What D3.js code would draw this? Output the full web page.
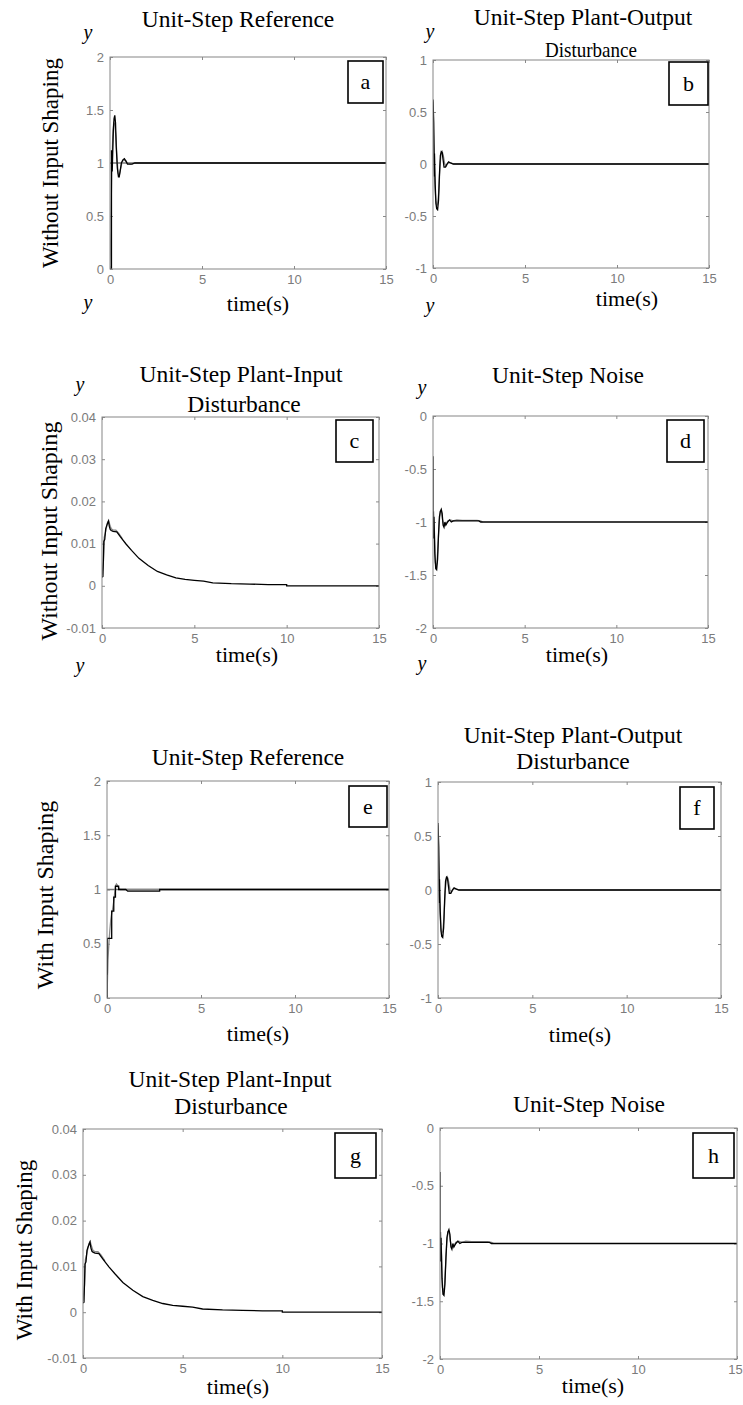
<!DOCTYPE html>
<html>
<head>
<meta charset="utf-8">
<script src="https://d3js.org/d3.v7.min.js"></script>
<style>
  body { margin: 0; background: #fff; }
  svg { display: block; }
  .tick text { font-family: "Liberation Sans", Arial, sans-serif; font-size: 13px; fill: #7b7b7b; }
  .tick line { stroke: #8a8a8a; }
  .serif { font-family: "Liberation Serif", "Times New Roman", serif; fill: #000; }
</style>
</head>
<body>
<svg id="fig" width="743" height="1405"></svg>
<script>
// ---- tick labels ----
var timeTicks = [0, 5, 10, 15];
var refTicks = [0, 0.5, 1, 1.5, 2];
var outDistTicks = [-1, -0.5, 0, 0.5, 1];
var inDistTicks = [-0.01, 0, 0.01, 0.02, 0.03, 0.04];
var noiseTicks = [-2, -1.5, -1, -0.5, 0];

// ---- a: unit-step reference, no shaping ----
var refT1 = [0, 0.08, 0.08, 0.12, 0.18, 0.22, 0.26, 0.3, 0.34, 0.4, 0.46, 0.5, 0.55, 0.62, 0.7, 0.78, 0.86, 0.95, 1.05, 1.2, 1.35, 15];
var refY1 = [0, 0, 1.12, 0.92, 1.3, 1.42, 1.45, 1.38, 1.15, 0.95, 0.87, 0.87, 0.92, 1.0, 1.03, 1.04, 1.02, 0.99, 0.99, 0.99, 1.0, 1.0];
var refT2 = [0, 0.05, 0.05, 0.1, 0.15, 0.2, 0.26, 0.32, 0.38, 0.44, 0.5, 0.58, 0.66, 0.75, 0.85, 0.95, 1.1, 1.3, 15];
var refY2 = [0, 0.36, 0.5, 0.95, 1.25, 1.38, 1.37, 1.25, 1.05, 0.9, 0.88, 0.95, 1.01, 1.03, 1.02, 1.0, 0.99, 1.0, 1.0];
var setT = [0, 15];
var setY = [1, 1];

// ---- b / f: plant-output disturbance (same response in both rows) ----
var outT1 = [0, 0.04, 0.08, 0.08, 0.12, 0.16, 0.2, 0.25, 0.3, 0.35, 0.4, 0.45, 0.5, 0.55, 0.6, 0.68, 0.76, 0.85, 0.95, 1.1, 1.3, 15];
var outY1 = [0.62, 0.4, -0.12, 0.1, -0.2, -0.38, -0.43, -0.44, -0.35, -0.1, 0.08, 0.12, 0.11, 0.04, -0.03, -0.03, 0.0, 0.02, 0.01, 0.0, 0.0, 0];
var outT2 = [0, 0.03, 0.06, 0.1, 0.15, 0.2, 0.26, 0.32, 0.38, 0.44, 0.5, 0.56, 0.64, 0.72, 0.82, 0.95, 1.15, 15];
var outY2 = [0.6, 0.2, -0.05, -0.2, -0.35, -0.4, -0.38, -0.25, -0.02, 0.1, 0.12, 0.08, 0.0, -0.02, 0.01, 0.01, 0.0, 0];

// ---- c / g: plant-input disturbance ----
var inT1 = [0, 0.05, 0.1, 0.15, 0.2, 0.25, 0.3, 0.35, 0.4, 0.45, 0.5, 0.6, 0.8, 1.0, 1.3, 1.6, 2.0, 2.5, 3.0, 3.5, 4.0, 4.5, 5.0, 5.5, 6.0, 7.0, 8.0, 9.0, 10.0, 10.0, 15];
var inY1 = [0.002, 0.0022, 0.0105, 0.011, 0.0135, 0.0142, 0.0148, 0.0153, 0.014, 0.0133, 0.0131, 0.0129, 0.0128, 0.0116, 0.0099, 0.0084, 0.0065, 0.0048, 0.0034, 0.0026, 0.0019, 0.0015, 0.0013, 0.0011, 0.0007, 0.0005, 0.0004, 0.0003, 0.0003, 0.0, 0.0];
var inT2 = [0, 0.08, 0.12, 0.18, 0.24, 0.3, 0.36, 0.42, 0.5, 0.6, 0.75, 0.9, 1.1];
var inY2 = [0.0025, 0.006, 0.0115, 0.0125, 0.0138, 0.015, 0.0155, 0.0145, 0.0135, 0.0132, 0.0132, 0.0125, 0.0112];

// ---- d / h: noise ----
var noiseT1 = [0, 0, 0.05, 0.05, 0.1, 0.15, 0.2, 0.25, 0.3, 0.35, 0.4, 0.45, 0.5, 0.55, 0.6, 0.65, 0.7, 0.8, 0.9, 1.0, 1.1, 1.3, 1.6, 2.0, 2.5, 2.6, 15];
var noiseY1 = [-0.38, -1.15, -1.15, -0.95, -1.3, -1.44, -1.45, -1.35, -1.12, -0.95, -0.9, -0.88, -0.92, -1.03, -1.05, -1.0, -1.03, -1.0, -0.98, -1.0, -0.99, -0.99, -0.99, -0.99, -0.99, -1.0, -1.0];
var noiseT2 = [0.03, 0.08, 0.12, 0.17, 0.22, 0.28, 0.34, 0.4, 0.46, 0.52, 0.6, 0.7, 0.8, 0.95, 1.1, 1.3, 1.6, 2.0, 2.4, 2.6, 2.7];
var noiseY2 = [-0.9, -1.1, -1.38, -1.42, -1.38, -1.2, -1.0, -0.9, -0.9, -0.98, -1.03, -1.02, -0.99, -0.98, -0.99, -0.98, -0.985, -0.985, -0.985, -0.99, -1.0];

// ---- e: unit-step reference, with shaping ----
var shRefT1 = [0, 0, 0.02, 0.02, 0.25, 0.25, 0.36, 0.36, 0.45, 0.45, 0.62, 0.62, 1.0, 1.1, 2.8, 2.8, 15];
var shRefY1 = [0, 0.22, 0.22, 0.55, 0.55, 0.8, 0.8, 0.93, 0.93, 1.03, 1.03, 1.0, 1.0, 0.985, 0.985, 1.0, 1.0];
var shRefT2 = [0, 0.05, 0.1, 0.15, 0.2, 0.25, 0.3, 0.35, 0.4, 0.45, 0.5, 0.55, 0.6, 0.7, 0.8, 1.0, 15];
var shRefY2 = [0, 0.35, 0.5, 0.62, 0.72, 0.78, 0.82, 0.88, 0.95, 1.03, 1.05, 1.04, 1.02, 1.0, 1.0, 1.0, 1.0];

function zip(t, y) { return t.map(function(d, i) { return [d, y[i]]; }); }

var svg = d3.select("#fig");

// layout of each subplot (frame = left, top, right, bottom)
// titles: [text, x, y, size, squeezed width]
var panels = [
  { tag: "a", frame: [110, 57, 386, 269], yTicks: refTicks,
    series: [[setT, setY, "#777"], [refT2, refY2, "#888"], [refT1, refY1, "#000"]],
    titles: [["Unit-Step Reference", 238, 27, 23.5]],
    ylab: ["Without Input Shaping", 58, 163, 23], time: [258, 311],
    ys: [[88, 39], [88, 309]], box: [348, 61, 35, 42] },
  { tag: "b", frame: [433, 60, 709, 268], yTicks: outDistTicks,
    series: [[outT2, outY2, "#888"], [outT1, outY1, "#000"]],
    titles: [["Unit-Step Plant-Output", 583, 25, 23.5], ["Disturbance", 591, 57, 22, 92]],
    ylab: null, time: [627, 306],
    ys: [[430, 38], [430, 312]], box: [669, 62, 39, 43] },
  { tag: "c", frame: [102, 417, 379, 628], yTicks: inDistTicks,
    series: [[inT2, inY2, "#888"], [inT1, inY1, "#000"]],
    titles: [["Unit-Step Plant-Input", 241, 382, 23.5], ["Disturbance", 244, 412, 23.5]],
    ylab: ["Without Input Shaping", 57, 531, 24], time: [247, 662],
    ys: [[80, 391], [80, 672]], box: [336, 420, 37, 42] },
  { tag: "d", frame: [433, 416, 708, 628], yTicks: noiseTicks,
    series: [[noiseT2, noiseY2, "#888"], [noiseT1, noiseY1, "#000"]],
    titles: [["Unit-Step Noise", 568, 383, 23.5]],
    ylab: null, time: [577, 662],
    ys: [[422, 394], [422, 670]], box: [667, 420, 37, 42] },
  { tag: "e", frame: [107, 781, 389, 998], yTicks: refTicks,
    series: [[setT, setY, "#777"], [shRefT2, shRefY2, "#888"], [shRefT1, shRefY1, "#000"]],
    titles: [["Unit-Step Reference", 248, 765, 23.5]],
    ylab: ["With Input Shaping", 53, 895, 24], time: [258, 1041],
    ys: [], box: [349, 786, 38, 41] },
  { tag: "f", frame: [438, 782, 721, 998], yTicks: outDistTicks,
    series: [[outT2, outY2, "#888"], [outT1, outY1, "#000"]],
    titles: [["Unit-Step Plant-Output", 573, 743, 23.5], ["Disturbance", 573, 769, 23.5]],
    ylab: null, time: [580, 1042],
    ys: [], box: [680, 787, 34, 42] },
  { tag: "g", frame: [83, 1129, 382, 1358], yTicks: inDistTicks,
    series: [[inT2, inY2, "#888"], [inT1, inY1, "#000"]],
    titles: [["Unit-Step Plant-Input", 230, 1087, 23.5], ["Disturbance", 231, 1114, 23.5]],
    ylab: ["With Input Shaping", 32, 1250, 23], time: [238, 1394],
    ys: [], box: [335, 1133, 41, 45] },
  { tag: "h", frame: [440, 1128, 737, 1359], yTicks: noiseTicks,
    series: [[noiseT2, noiseY2, "#888"], [noiseT1, noiseY1, "#000"]],
    titles: [["Unit-Step Noise", 589, 1112, 23.5]],
    ylab: null, time: [593, 1393],
    ys: [], box: [693, 1133, 41, 45] }
];

panels.forEach(function(p, k) {
  var L = p.frame[0], T = p.frame[1], R = p.frame[2], B = p.frame[3];
  var x = d3.scaleLinear().domain([0, 15]).range([L, R]);
  var y = d3.scaleLinear().domain(d3.extent(p.yTicks)).range([B, T]);
  var g = svg.append("g");
  var fmt = function(d) { return String(d); };

  // inward ticks on all four sides, MATLAB style
  var xb = g.append("g").attr("transform", "translate(0," + B + ")")
    .call(d3.axisBottom(x).tickValues(timeTicks).tickFormat(fmt).tickSize(-3).tickPadding(6))
    .call(function(s) { s.select(".domain").remove(); });
  // keep the last label inside the page
  xb.selectAll(".tick text").attr("dx", function(d) {
    return x(d) + 8 > 743 ? (743 - 8 - x(d)) : 0;
  });
  g.append("g").attr("transform", "translate(" + L + ",0)")
    .call(d3.axisLeft(y).tickValues(p.yTicks).tickFormat(fmt).tickSize(-3).tickPadding(6))
    .call(function(s) { s.select(".domain").remove(); });
  g.append("g").attr("transform", "translate(0," + T + ")")
    .call(d3.axisTop(x).tickValues(timeTicks).tickFormat("").tickSize(-3))
    .call(function(s) { s.select(".domain").remove(); });
  g.append("g").attr("transform", "translate(" + R + ",0)")
    .call(d3.axisRight(y).tickValues(p.yTicks).tickFormat("").tickSize(-3))
    .call(function(s) { s.select(".domain").remove(); });

  svg.append("clipPath").attr("id", "clip" + k)
    .append("rect").attr("x", L).attr("y", T).attr("width", R - L).attr("height", B - T);

  var line = d3.line().x(function(d) { return x(d[0]); }).y(function(d) { return y(d[1]); });
  p.series.forEach(function(s) {
    g.append("path").datum(zip(s[0], s[1]))
      .attr("clip-path", "url(#clip" + k + ")")
      .attr("fill", "none").attr("stroke", s[2]).attr("stroke-width", 1.3)
      .attr("d", line);
  });

  g.append("rect").attr("x", L).attr("y", T).attr("width", R - L).attr("height", B - T)
    .attr("fill", "none").attr("stroke", "#858585").attr("stroke-width", 1);

  // panel letter box
  g.append("rect").attr("x", p.box[0]).attr("y", p.box[1]).attr("width", p.box[2]).attr("height", p.box[3])
    .attr("fill", "#fff").attr("stroke", "#000").attr("stroke-width", 1.6);
  g.append("text").attr("class", "serif")
    .attr("x", p.box[0] + p.box[2] / 2).attr("y", p.box[1] + p.box[3] / 2 + 7)
    .attr("text-anchor", "middle").style("font-size", "22px").text(p.tag);

  p.titles.forEach(function(t) {
    var tt = g.append("text").attr("class", "serif").attr("x", t[1]).attr("y", t[2])
      .attr("text-anchor", "middle").style("font-size", t[3] + "px").text(t[0]);
    if (t[4]) tt.attr("textLength", t[4]).attr("lengthAdjust", "spacingAndGlyphs");
  });

  if (p.ylab) {
    g.append("text").attr("class", "serif")
      .attr("transform", "translate(" + p.ylab[1] + "," + p.ylab[2] + ") rotate(-90)")
      .attr("text-anchor", "middle").style("font-size", p.ylab[3] + "px").text(p.ylab[0]);
  }

  g.append("text").attr("class", "serif").attr("x", p.time[0]).attr("y", p.time[1])
    .attr("text-anchor", "middle").style("font-size", "22px").text("time(s)");

  p.ys.forEach(function(v) {
    g.append("text").attr("class", "serif").attr("x", v[0]).attr("y", v[1])
      .attr("text-anchor", "middle").style("font-size", "20px").style("font-style", "italic").text("y");
  });
});
</script>
</body>
</html>
